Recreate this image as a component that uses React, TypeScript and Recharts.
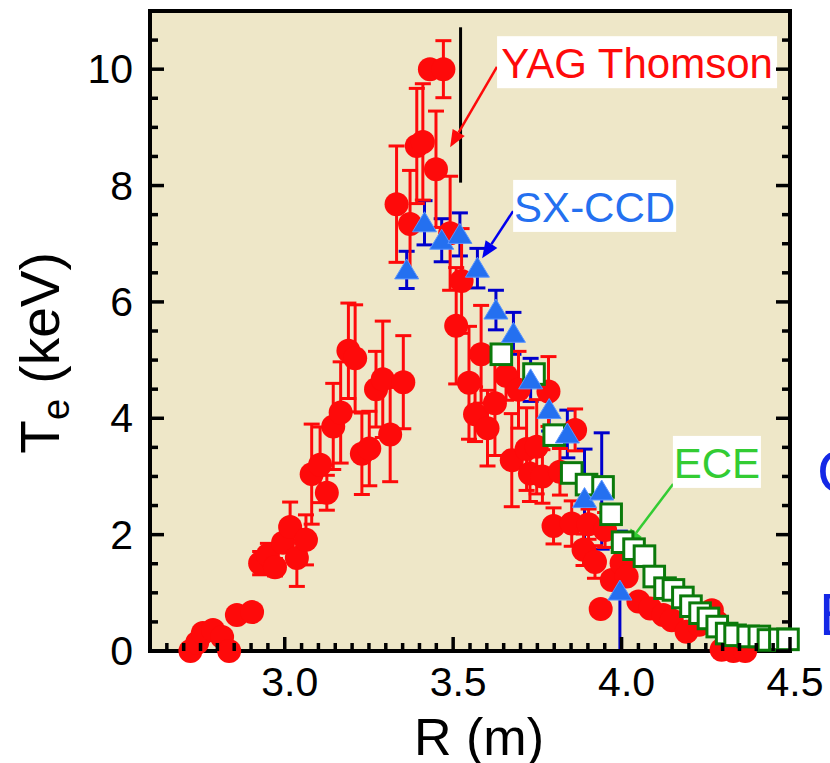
import React from "react"
import {
    ScatterChart, Scatter, XAxis, YAxis, CartesianGrid, ErrorBar, ReferenceLine, ReferenceDot, Label,
} from "recharts"

const RED = "#fe0a0a"
const BLUE = "#2470f0"
const BLUE_BAR = "#0000cc"
const GREEN = "#0b7a0b"
const LIGHT_GREEN = "#33cc33"
const BG = "#eee7c8"
const FONT = "'Liberation Sans', Arial, sans-serif"

// YAG Thomson scattering
const yagR = [
    2.72, 2.74, 2.757, 2.787, 2.814, 2.835, 2.858, 2.903, 2.927, 2.95, 2.971, 2.995, 3.016, 3.036, 3.063,
    3.08, 3.105, 3.125, 3.144, 3.166, 3.189, 3.209, 3.229, 3.251, 3.271, 3.291, 3.313, 3.332, 3.352, 3.372,
    3.392, 3.41, 3.431, 3.449, 3.471, 3.491, 3.509, 3.525, 3.547, 3.565, 3.583, 3.602, 3.624, 3.657, 3.674,
    3.694, 3.718, 3.728, 3.748, 3.765, 3.783, 3.798, 3.817, 3.852, 3.862, 3.887, 3.902, 3.921, 3.938, 3.951,
    3.971, 4.0, 4.015, 4.05, 4.085, 4.124, 4.149, 4.193, 4.23, 4.268, 4.283, 4.297, 4.332, 4.367,
]
const yagTe = [
    0, 0.14, 0.31, 0.36, 0.24, 0, 0.62, 0.67, 1.51, 1.65, 1.44, 1.86, 2.13, 1.6, 1.91,
    3.04, 3.2, 2.72, 3.86, 4.1, 5.16, 5.03, 3.39, 3.48, 4.5, 4.67, 3.72, 7.68, 4.62, 7.34,
    8.68, 8.75, 10.0, 8.28, 10.0, 7.18, 5.59, 6.36, 4.61, 4.07, 5.1, 3.83, 4.26, 4.73, 3.28,
    4.49, 3.47, 3.05, 3.51, 3.0, 4.46, 2.15, 3.08, 2.19, 3.8, 1.74, 2.18, 1.53, 0.72, 2.08,
    1.22, 1.51, 1.28, 0.85, 0.73, 0.62, 0.53, 0.33, 0.45, 0.7, 0.5, 0.02, 0, 0,
]
const yagErr = [
    0, 0, 0, 0, 0, 0, 0, 0, 0.2, 0.2, 0.15, 0.12, 0.43, 0.49, 0.43,
    0.86, 0.65, 0.3, 0.74, 0.87, 0.82, 0.92, 0.7, 0.64, 0.65, 1.0, 0.81, 1.0, 0.8, 0.92,
    0.99, 1.0, 0, 1.0, 0.49, 0.98, 1.0, 0.9, 0.97, 0.47, 0.84, 0.65, 0.9, 0.42, 0.8,
    0.66, 0.71, 0.48, 0.81, 0.46, 0.6, 0.31, 0.4, 0.39, 0.36, 0.27, 0.26, 0.28, 0, 0.3,
    0, 0, 0, 0, 0, 0, 0, 0, 0, 0, 0, 0, 0, 0,
]

// SX-CCD
const sxR = [3.362, 3.415, 3.466, 3.52, 3.572, 3.627, 3.679, 3.73, 3.785, 3.839, 3.89, 3.941, 3.995]
const sxTe = [6.55, 7.36, 7.06, 7.16, 6.58, 5.86, 5.46, 4.66, 4.15, 3.73, 2.62, 2.75, 1.03]
const sxErr = [0.32, 0.38, 0.37, 0.37, 0.34, 0.34, 0.36, 0.37, 0.37, 0.41, 0.85, 1.0, 1.03]

// ECE
const eceR = [
    3.643, 3.74, 3.8, 3.852, 3.896, 3.945, 3.969, 4.003, 4.037, 4.068, 4.097, 4.129, 4.154,
    4.182, 4.206, 4.233, 4.258, 4.284, 4.312, 4.337, 4.376, 4.409, 4.436, 4.47, 4.494,
]
const eceTe = [
    5.1, 4.76, 3.71, 3.06, 2.86, 2.82, 2.35, 1.87, 1.75, 1.63, 1.28, 1.08, 1.05,
    0.92, 0.77, 0.65, 0.56, 0.42, 0.3, 0.27, 0.25, 0.25, 0.19, 0.2, 0.2,
]

const xMajorTicks = [3.0, 3.5, 4.0, 4.5]
const yMajorTicks = [0, 2, 4, 6, 8, 10]
const X_DOMAIN = [2.6, 4.5]
const Y_DOMAIN = [0, 11]

const yagData = yagR.map((r, i) => ({ r, te: yagTe[i], err: yagErr[i] }))
const sxData = sxR.map((r, i) => ({ r, te: sxTe[i], err: sxErr[i] }))
const eceData = eceR.map((r, i) => ({ r, te: eceTe[i] }))

const round = (v: number) => Math.round(v * 1000) / 1000
const xTicks: number[] = []
for (let v = 2.65; v < 4.5 - 0.01; v += 0.05) xTicks.push(round(v))
xTicks.push(4.5)
const yTicks: number[] = []
for (let v = 0; v <= 10.5 + 0.01; v += 0.5) yTicks.push(round(v))

const isXMajor = (v: number) => xMajorTicks.some((t) => Math.abs(t - v) < 1e-6)
const isYMajor = (v: number) => yMajorTicks.some((t) => Math.abs(t - v) < 1e-6)

type Side = "bottom" | "top" | "left" | "right"

const renderTick = (side: Side) => (props: any) => {
    const { x, y, payload } = props
    const v = payload.value as number
    const big = side === "bottom" || side === "top" ? isXMajor(v) : isYMajor(v)
    const len = big ? 14 : 8
    const dx = side === "left" ? len : side === "right" ? -len : 0
    const dy = side === "bottom" ? -len : side === "top" ? len : 0
    return (
        <g>
            <line x1={x} y1={y} x2={x + dx} y2={y + dy} stroke="#000" strokeWidth={3.5} />
            {big && side === "bottom" && (
                <text x={x + 5} y={y + 45} textAnchor="middle" fontSize={41} fill="#000">
                    {v.toFixed(1)}
                </text>
            )}
            {big && side === "left" && (
                <text x={x - 17} y={y + 14} textAnchor="end" fontSize={41} fill="#000">
                    {v}
                </text>
            )}
        </g>
    )
}

const Circle = (p: any) => <circle cx={p.cx} cy={p.cy} r={12} fill={RED} />

const Triangle = (p: any) => (
    <polygon
        points={`${p.cx},${p.cy - 11} ${p.cx - 12},${p.cy + 9} ${p.cx + 12},${p.cy + 9}`}
        fill={BLUE}
        stroke="#5a95ff"
        strokeWidth={1}
    />
)

const Square = (p: any) => (
    <rect x={p.cx - 10.3} y={p.cy - 10.3} width={20.6} height={20.6} fill="#fff" stroke={GREEN} strokeWidth={3} />
)

const Nothing = () => <g />

const arrowShape = (color: string, width: number) => (p: any) => {
    const { x1, y1, x2, y2 } = p
    const a = Math.atan2(y2 - y1, x2 - x1)
    const L = 17
    const W = 7
    const bx = x2 - L * Math.cos(a)
    const by = y2 - L * Math.sin(a)
    return (
        <g>
            <line x1={x1} y1={y1} x2={bx} y2={by} stroke={color} strokeWidth={width} />
            <polygon
                points={`${x2},${y2} ${bx - W * Math.sin(a)},${by + W * Math.cos(a)} ${bx + W * Math.sin(a)},${by - W * Math.cos(a)}`}
                fill={color}
            />
        </g>
    )
}

const callout = (text: string, color: string, w: number) => (p: any) => (
    <g>
        <rect x={p.cx - w / 2} y={p.cy - 26} width={w} height={52} fill="#fff" />
        <text x={p.cx} y={p.cy + 16} textAnchor="middle" fontSize={42} fill={color}>
            {text}
        </text>
    </g>
)

export default function App() {
    return (
        <div style={{ position: "absolute", left: 0, top: 0, width: 830, height: 763, fontFamily: FONT, background: "#fff" }}>
            <ScatterChart width={830} height={763} margin={{ top: 1, right: 30, bottom: 32, left: 50 }}>
                <CartesianGrid horizontal={false} vertical={false} fill={BG} stroke="none" xAxisId="b" yAxisId="l" />
                <XAxis
                    xAxisId="b"
                    type="number"
                    dataKey="r"
                    domain={X_DOMAIN}
                    ticks={xTicks}
                    interval={0}
                    height={80}
                    tickSize={0}
                    tickMargin={0}
                    tickLine={false}
                    axisLine={{ stroke: "#000", strokeWidth: 4, strokeLinecap: "square" }}
                    tick={renderTick("bottom")}
                >
                    <Label
                        content={(p: any) => (
                            <text x={p.viewBox.x + p.viewBox.width / 2 + 9} y={p.viewBox.y + 104} textAnchor="middle" fontSize={52} fill="#000">
                                R (m)
                            </text>
                        )}
                    />
                </XAxis>
                <XAxis
                    xAxisId="t"
                    orientation="top"
                    type="number"
                    domain={X_DOMAIN}
                    allowDataOverflow
                    ticks={xTicks}
                    interval={0}
                    height={10}
                    tickSize={0}
                    tickMargin={0}
                    tickLine={false}
                    axisLine={{ stroke: "#000", strokeWidth: 4, strokeLinecap: "square" }}
                    tick={renderTick("top")}
                />
                <YAxis
                    yAxisId="l"
                    type="number"
                    dataKey="te"
                    domain={Y_DOMAIN}
                    ticks={yTicks}
                    interval={0}
                    width={100}
                    tickSize={0}
                    tickMargin={0}
                    tickLine={false}
                    axisLine={{ stroke: "#000", strokeWidth: 4, strokeLinecap: "square" }}
                    tick={renderTick("left")}
                >
                    <Label
                        content={(p: any) => {
                            const cx = p.viewBox.x + 9
                            const cy = p.viewBox.y + p.viewBox.height / 2 + 22
                            return (
                                <text x={cx} y={cy} transform={`rotate(-90 ${cx} ${cy})`} textAnchor="middle" fontSize={55} fill="#000">
                                    T<tspan fontSize={38} dy={10}>e</tspan>
                                    <tspan dy={-10}> (keV)</tspan>
                                </text>
                            )
                        }}
                    />
                </YAxis>
                <YAxis
                    yAxisId="r"
                    orientation="right"
                    type="number"
                    domain={Y_DOMAIN}
                    allowDataOverflow
                    ticks={yTicks}
                    interval={0}
                    width={10}
                    tickSize={0}
                    tickMargin={0}
                    tickLine={false}
                    axisLine={{ stroke: "#000", strokeWidth: 4, strokeLinecap: "square" }}
                    tick={renderTick("right")}
                />

                <Scatter data={sxData} xAxisId="b" yAxisId="l" shape={Nothing} isAnimationActive={false}>
                    <ErrorBar dataKey="err" direction="y" width={8} stroke={BLUE_BAR} strokeWidth={3} isAnimationActive={false} />
                </Scatter>
                <Scatter data={yagData} xAxisId="b" yAxisId="l" shape={Circle} isAnimationActive={false}>
                    <ErrorBar dataKey="err" direction="y" width={8} stroke={RED} strokeWidth={3} isAnimationActive={false} />
                </Scatter>
                <Scatter data={eceData} xAxisId="b" yAxisId="l" shape={Square} isAnimationActive={false} />
                <Scatter data={sxData} xAxisId="b" yAxisId="l" shape={Triangle} isAnimationActive={false} />

                <ReferenceLine
                    xAxisId="b"
                    yAxisId="l"
                    segment={[{ x: 3.522, y: 8.05 }, { x: 3.522, y: 10.72 }]}
                    stroke="#000"
                    strokeWidth={3}
                />
                <ReferenceLine
                    xAxisId="b"
                    yAxisId="l"
                    segment={[{ x: 3.63, y: 10.04 }, { x: 3.491, y: 8.66 }]}
                    shape={arrowShape(RED, 2.5)}
                />
                <ReferenceLine
                    xAxisId="b"
                    yAxisId="l"
                    segment={[{ x: 3.678, y: 7.56 }, { x: 3.586, y: 6.75 }]}
                    shape={arrowShape("#0000ee", 2.5)}
                />
                <ReferenceLine
                    xAxisId="b"
                    yAxisId="l"
                    segment={[{ x: 4.153, y: 2.87 }, { x: 4.013, y: 1.8 }]}
                    shape={arrowShape(LIGHT_GREEN, 2.5)}
                />
                <ReferenceDot xAxisId="b" yAxisId="l" x={4.046} y={10.12} shape={callout("YAG Thomson", RED, 280)} />
                <ReferenceDot xAxisId="b" yAxisId="l" x={3.92} y={7.65} shape={callout("SX-CCD", BLUE, 163)} />
                <ReferenceDot xAxisId="b" yAxisId="l" x={4.283} y={3.25} shape={callout("ECE", LIGHT_GREEN, 88)} />
            </ScatterChart>
            <svg width={830} height={763} style={{ position: "absolute", left: 0, top: 0, pointerEvents: "none" }}>
                <text x={817} y={492} fontSize={60} fill="#1428e6">C</text>
                <text x={819} y={635} fontSize={60} fill="#1428e6">E</text>
            </svg>
        </div>
    )
}
